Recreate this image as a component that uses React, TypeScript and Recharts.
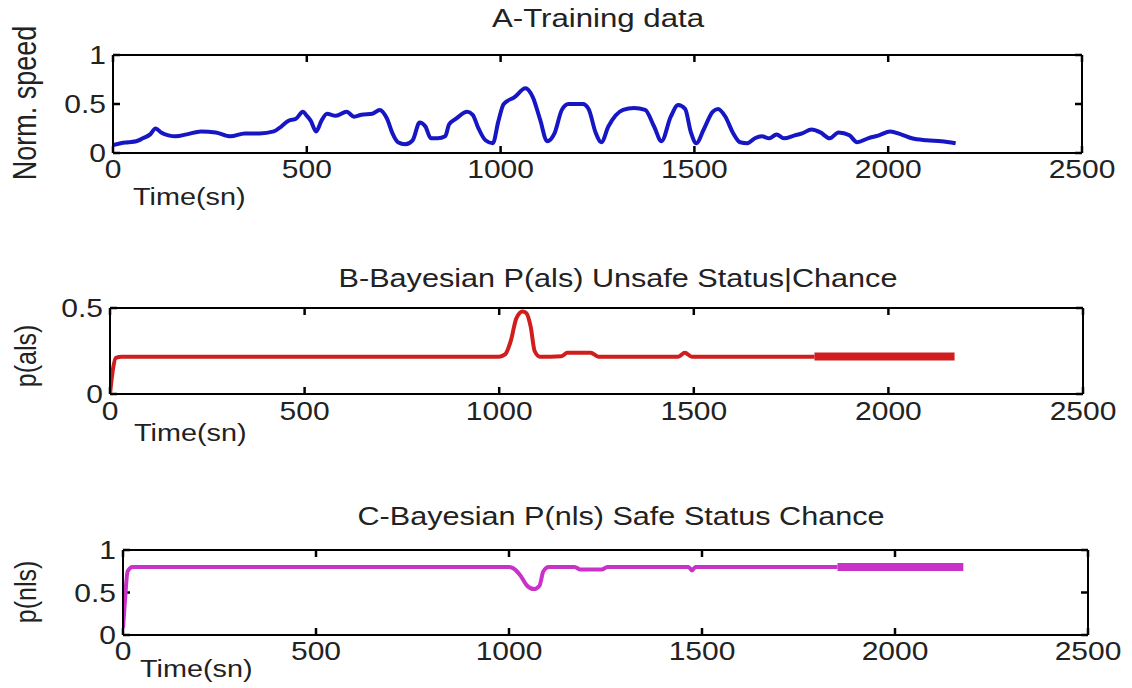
import React from 'react';
import { LineChart, Line, XAxis, YAxis, ReferenceLine } from 'recharts';

// ---------- Data ----------
const X_TICKS = [0, 500, 1000, 1500, 2000, 2500];
const Y_TICKS_A = [0, 0.5, 1];
const Y_TICKS_B = [0, 0.5];
const Y_TICKS_C = [0, 0.5, 1];

const TITLE_A = 'A-Training data';
const TITLE_B = 'B-Bayesian P(als) Unsafe Status|Chance';
const TITLE_C = 'C-Bayesian P(nls) Safe Status Chance';
const X_LABEL = 'Time(sn)';
const Y_LABEL_A = 'Norm. speed';
const Y_LABEL_B = 'p(als)';
const Y_LABEL_C = 'p(nls)';

const TIME_A = [0, 20, 40, 60, 77, 96, 110, 124, 143, 162, 190, 227, 265, 303, 340, 378, 415, 434, 453, 472, 490, 500, 510, 524, 538, 552, 575, 603, 622, 641, 669, 688, 707, 721, 735, 754, 773, 791, 806, 820, 838, 857, 867, 885, 914, 928, 942, 961, 980, 994, 1008, 1036, 1064, 1083, 1102, 1120, 1139, 1158, 1175, 1212, 1227, 1245, 1260, 1278, 1316, 1344, 1373, 1396, 1415, 1439, 1458, 1476, 1491, 1505, 1524, 1547, 1561, 1580, 1599, 1618, 1637, 1656, 1674, 1693, 1712, 1731, 1759, 1778, 1802, 1825, 1849, 1872, 1900, 1920, 1948, 1976, 2005, 2033, 2061, 2099, 2137, 2174];
const SPEED_A = [0.08, 0.10, 0.11, 0.12, 0.15, 0.19, 0.25, 0.21, 0.18, 0.17, 0.19, 0.22, 0.21, 0.17, 0.20, 0.20, 0.22, 0.27, 0.33, 0.35, 0.42, 0.38, 0.33, 0.22, 0.33, 0.40, 0.38, 0.42, 0.37, 0.39, 0.40, 0.44, 0.35, 0.20, 0.11, 0.09, 0.13, 0.31, 0.27, 0.15, 0.15, 0.17, 0.29, 0.35, 0.42, 0.39, 0.26, 0.13, 0.10, 0.32, 0.50, 0.57, 0.66, 0.57, 0.34, 0.12, 0.20, 0.44, 0.50, 0.50, 0.45, 0.21, 0.11, 0.27, 0.44, 0.46, 0.44, 0.27, 0.12, 0.37, 0.49, 0.45, 0.21, 0.10, 0.24, 0.42, 0.45, 0.37, 0.21, 0.11, 0.10, 0.15, 0.17, 0.15, 0.19, 0.15, 0.18, 0.20, 0.24, 0.21, 0.15, 0.21, 0.18, 0.11, 0.15, 0.18, 0.22, 0.19, 0.15, 0.13, 0.12, 0.10];

const TIME_B = [0, 8, 15, 30, 1000, 1015, 1030, 1044, 1060, 1070, 1081, 1091, 1105, 1160, 1175, 1235, 1255, 1460, 1477, 1495, 1810];
const P_ALS = [0.0, 0.15, 0.21, 0.217, 0.217, 0.23, 0.31, 0.44, 0.48, 0.47, 0.39, 0.25, 0.217, 0.22, 0.24, 0.24, 0.217, 0.217, 0.24, 0.217, 0.217];
const TIME_B_END = [1810, 2170];
const P_ALS_END = [0.218, 0.218];

const TIME_C = [0, 5, 12, 25, 1000, 1009, 1028, 1047, 1065, 1079, 1089, 1103, 1170, 1185, 1240, 1255, 1465, 1474, 1483, 1851];
const P_NLS = [0.08, 0.4, 0.75, 0.8, 0.8, 0.79, 0.71, 0.58, 0.54, 0.58, 0.75, 0.8, 0.8, 0.77, 0.77, 0.8, 0.8, 0.76, 0.8, 0.8];
const TIME_C_END = [1851, 2177];
const P_NLS_END = [0.8, 0.8];

const zip = (ts: number[], vs: number[]) => ts.map((t, i) => ({ t, v: vs[i] }));

// ---------- Style ----------
const FONT = '"Liberation Sans", Arial, Helvetica, sans-serif';
const TXT = '#222';
const SX = 1.2;
const FS = 25;
const TL = 7; // inward tick length (px)
const AX = 1; // axis band thickness
const CHART_W = 1132;
const X_DOMAIN: [number, number] = [0, 2500];

type PanelProps = {
  top: number;
  height: number;
  margin: { top: number; left: number; right: number; bottom: number };
  yDomain: [number, number];
  yTicks: number[];
  color: string;
  main: { t: number; v: number }[];
  end?: { t: number; v: number }[];
  mainWidth: number;
  endWidth: number;
  xLabelDy: number;
  yLabelDx: number;
};

const fmt = (v: number) => String(v);
const axisLineStyle = { stroke: '#000', strokeWidth: 2 };

function Panel(p: PanelProps) {
  const bottomTick = (props: any) => {
    const { x, y, payload } = props;
    return (
      <text
        transform={`translate(${x},${y - AX + p.xLabelDy}) scale(${SX},1)`}
        textAnchor="middle"
        fontFamily={FONT}
        fontSize={FS}
        fill={TXT}
        stroke="none"
      >
        {fmt(payload.value)}
      </text>
    );
  };
  const leftTick = (props: any) => {
    const { x, y, payload } = props;
    return (
      <text
        transform={`translate(${x + AX - p.yLabelDx},${y + 9}) scale(${SX},1)`}
        textAnchor="end"
        fontFamily={FONT}
        fontSize={FS}
        fill={TXT}
        stroke="none"
      >
        {fmt(payload.value)}
      </text>
    );
  };
  const noTick = () => <g />;

  const m = {
    top: p.margin.top - AX,
    bottom: p.margin.bottom - AX,
    left: p.margin.left - AX,
    right: p.margin.right - AX,
  };
  // plot area size, used to convert the pixel tick length to data units
  const plotW = CHART_W - p.margin.left - p.margin.right;
  const plotH = p.height - p.margin.top - p.margin.bottom;
  const [y0, y1] = p.yDomain;
  const [x0, x1] = X_DOMAIN;
  const dy = ((y1 - y0) * TL) / plotH;
  const dx = ((x1 - x0) * TL) / plotW;

  const tickMarks: React.ReactNode[] = [];
  X_TICKS.forEach((t) => {
    tickMarks.push(
      <ReferenceLine key={`xb${t}`} xAxisId="b" yAxisId="l" ifOverflow="visible" stroke="#000" strokeWidth={2.5}
        segment={[{ x: t, y: y0 }, { x: t, y: y0 + dy }]} />,
      <ReferenceLine key={`xt${t}`} xAxisId="b" yAxisId="l" ifOverflow="visible" stroke="#000" strokeWidth={2.5}
        segment={[{ x: t, y: y1 }, { x: t, y: y1 - dy }]} />
    );
  });
  p.yTicks.forEach((v) => {
    tickMarks.push(
      <ReferenceLine key={`yl${v}`} xAxisId="b" yAxisId="l" ifOverflow="visible" stroke="#000" strokeWidth={2.5}
        segment={[{ x: x0, y: v }, { x: x0 + dx, y: v }]} />,
      <ReferenceLine key={`yr${v}`} xAxisId="b" yAxisId="l" ifOverflow="visible" stroke="#000" strokeWidth={2.5}
        segment={[{ x: x1, y: v }, { x: x1 - dx, y: v }]} />
    );
  });

  return (
    <div style={{ position: 'absolute', left: 0, top: p.top }}>
      <LineChart width={CHART_W} height={p.height} margin={m} style={{ overflow: 'visible' }}>
        <XAxis
          xAxisId="b"
          dataKey="t"
          type="number"
          domain={X_DOMAIN}
          ticks={X_TICKS}
          interval={0}
          orientation="bottom"
          height={AX}
          tickSize={0}
          tickMargin={0}
          tickLine={false}
          axisLine={axisLineStyle}
          tick={bottomTick}
          allowDataOverflow
        />
        <XAxis
          xAxisId="t"
          dataKey="t"
          type="number"
          domain={X_DOMAIN}
          ticks={X_TICKS}
          interval={0}
          orientation="top"
          height={AX}
          tickSize={0}
          tickMargin={0}
          tickLine={false}
          axisLine={axisLineStyle}
          tick={noTick}
        />
        <YAxis
          yAxisId="l"
          type="number"
          domain={p.yDomain}
          ticks={p.yTicks}
          interval={0}
          orientation="left"
          width={AX}
          tickSize={0}
          tickMargin={0}
          tickLine={false}
          axisLine={axisLineStyle}
          tick={leftTick}
          allowDataOverflow
        />
        <YAxis
          yAxisId="r"
          type="number"
          domain={p.yDomain}
          ticks={p.yTicks}
          interval={0}
          orientation="right"
          width={AX}
          tickSize={0}
          tickMargin={0}
          tickLine={false}
          axisLine={axisLineStyle}
          tick={noTick}
        />
        {tickMarks}
        <Line
          xAxisId="b"
          yAxisId="l"
          data={p.main}
          dataKey="v"
          type="monotone"
          stroke={p.color}
          strokeWidth={p.mainWidth}
          dot={false}
          isAnimationActive={false}
          strokeLinejoin="round"
        />
        {p.end && (
          <Line
            xAxisId="b"
            yAxisId="l"
            data={p.end}
            dataKey="v"
            type="linear"
            stroke={p.color}
            strokeWidth={p.endWidth}
            dot={false}
            isAnimationActive={false}
          />
        )}
      </LineChart>
    </div>
  );
}

function HText({ x, y, anchor = 'middle', children, size = FS }: any) {
  return (
    <text transform={`translate(${x},${y}) scale(${SX},1)`} textAnchor={anchor} fontFamily={FONT} fontSize={size} fill={TXT}>
      {children}
    </text>
  );
}

function VText({ x, y, children, size = FS }: any) {
  return (
    <text transform={`translate(${x},${y}) scale(${SX},1) rotate(-90)`} textAnchor="middle" fontFamily={FONT} fontSize={size} fill={TXT}>
      {children}
    </text>
  );
}

export default function App() {
  return (
    <div style={{ position: 'absolute', left: 0, top: 0, width: 1132, height: 688, background: '#fff', overflow: 'hidden' }}>
      <Panel
        top={0}
        height={230}
        margin={{ top: 55, left: 113, right: 50, bottom: 77 }}
        yDomain={[0, 1]}
        yTicks={Y_TICKS_A}
        color="#1616c4"
        main={zip(TIME_A, SPEED_A)}
        mainWidth={4}
        endWidth={4}
        xLabelDy={26}
        yLabelDx={8}
      />
      <Panel
        top={230}
        height={230}
        margin={{ top: 78, left: 110, right: 49, bottom: 66 }}
        yDomain={[0, 0.5]}
        yTicks={Y_TICKS_B}
        color="#d01e1e"
        main={zip(TIME_B, P_ALS)}
        end={zip(TIME_B_END, P_ALS_END)}
        mainWidth={4}
        endWidth={8}
        xLabelDy={27}
        yLabelDx={8}
      />
      <Panel
        top={460}
        height={228}
        margin={{ top: 90, left: 123, right: 44, bottom: 53 }}
        yDomain={[0, 1]}
        yTicks={Y_TICKS_C}
        color="#c832c8"
        main={zip(TIME_C, P_NLS)}
        end={zip(TIME_C_END, P_NLS_END)}
        mainWidth={4}
        endWidth={8}
        xLabelDy={26}
        yLabelDx={8}
      />
      <svg width={1132} height={688} style={{ position: 'absolute', left: 0, top: 0, pointerEvents: 'none' }}>
        <HText x={598} y={27} size={26}>{TITLE_A}</HText>
        <HText x={618} y={287} size={25.5}>{TITLE_B}</HText>
        <HText x={621} y={525} size={25.5}>{TITLE_C}</HText>
        <HText x={133} y={205} anchor="start" size={24}>{X_LABEL}</HText>
        <HText x={134} y={441} anchor="start" size={24}>{X_LABEL}</HText>
        <HText x={140} y={677} anchor="start" size={24}>{X_LABEL}</HText>
        <VText x={36} y={103} size={27}>{Y_LABEL_A}</VText>
        <VText x={36} y={356} size={25}>{Y_LABEL_B}</VText>
        <VText x={36} y={592} size={25}>{Y_LABEL_C}</VText>
      </svg>
    </div>
  );
}
